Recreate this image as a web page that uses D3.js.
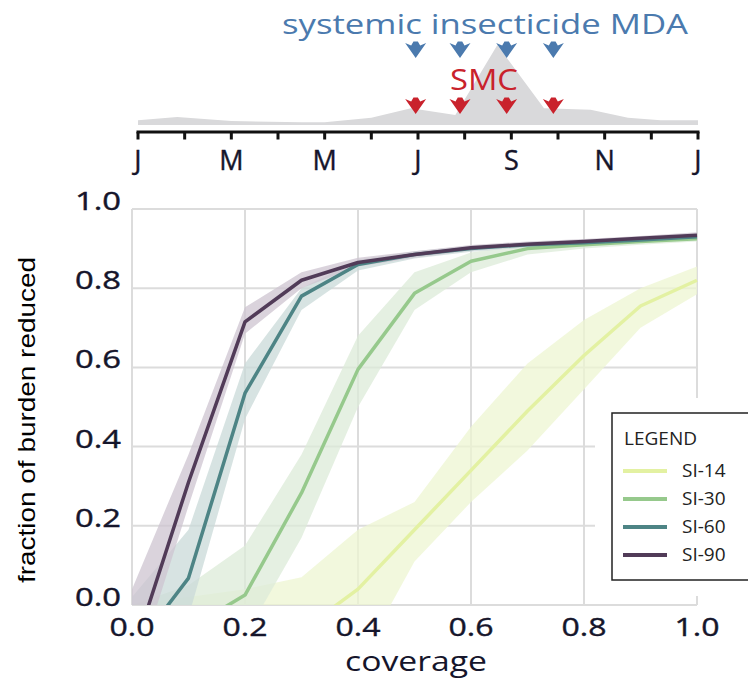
<html>
<head>
<meta charset="utf-8">
<style>
  body { margin: 0; background: #fff; }
  text { font-family: "Open Sans", "Noto Sans", sans-serif; }
</style>
</head>
<body>
<script src="https://cdn.jsdelivr.net/npm/d3@7"></script>
<script>
// ---- data ----
var coverage = [0, 0.1, 0.2, 0.3, 0.4, 0.5, 0.6, 0.7, 0.8, 0.9, 1.0];
var seriesNames = ["SI-14", "SI-30", "SI-60", "SI-90"];
var si14 = [-0.35, -0.25, -0.15, -0.065, 0.04, 0.19, 0.34, 0.49, 0.63, 0.755, 0.82];
var si14Lo = [-0.5, -0.4, -0.3, -0.25, -0.15, 0.11, 0.26, 0.39, 0.545, 0.70, 0.785];
var si14Hi = [0.0, 0.02, 0.04, 0.07, 0.19, 0.26, 0.45, 0.61, 0.72, 0.80, 0.855];
var si30 = [-0.1, -0.06, 0.025, 0.283, 0.595, 0.787, 0.868, 0.9, 0.91, 0.918, 0.925];
var si30Lo = [-0.2, -0.15, -0.08, 0.17, 0.50, 0.745, 0.84, 0.885, 0.9, 0.91, 0.918];
var si30Hi = [0.0, 0.05, 0.15, 0.38, 0.68, 0.84, 0.89, 0.912, 0.918, 0.924, 0.932];
var si60 = [-0.12, 0.068, 0.535, 0.78, 0.86, 0.885, 0.9, 0.91, 0.915, 0.922, 0.93];
var si60Lo = [-0.2, -0.03, 0.47, 0.745, 0.845, 0.875, 0.892, 0.903, 0.91, 0.916, 0.924];
var si60Hi = [0.02, 0.19, 0.61, 0.80, 0.872, 0.893, 0.907, 0.916, 0.921, 0.927, 0.935];
var si90 = [-0.13, 0.31, 0.715, 0.82, 0.865, 0.885, 0.902, 0.911, 0.918, 0.926, 0.934];
var si90Lo = [-0.2, 0.25, 0.685, 0.80, 0.855, 0.877, 0.895, 0.905, 0.912, 0.92, 0.928];
var si90Hi = [0.04, 0.38, 0.752, 0.84, 0.877, 0.893, 0.909, 0.918, 0.924, 0.932, 0.941];
var seriesColors = ["#e3f1a2", "#96c98c", "#4d8485", "#513b58"];
var bandColors = ["#eef6d2", "#dcebd8", "#c9d9d8", "#cdc4d0"];

var xTicks = [0, 0.2, 0.4, 0.6, 0.8, 1.0];
var yTicks = [0, 0.2, 0.4, 0.6, 0.8, 1.0];

// seasonal profile (month, relative height)
var seasonMonth = [0, 0.84, 2, 3.5, 4, 5, 5.85, 6.8, 7.7, 8.7, 9.7, 10.5, 11.2, 12];
var seasonValue = [0.06, 0.1, 0.05, 0.035, 0.035, 0.09, 0.21, 0.125, 1.0, 0.21, 0.19, 0.09, 0.06, 0.06];
var monthTicks = d3.range(0, 13);
var monthLabels = ["J", "M", "M", "J", "S", "N", "J"];
var monthLabelPos = [0, 2, 4, 6, 8, 10, 12];
var mdaRounds = [5.95, 6.9, 7.9, 8.9];
var smcRounds = [5.95, 6.9, 7.9, 8.9];

// ---- svg ----
var width = 748, height = 680;
var svg = d3.select("body").append("svg")
    .attr("width", width)
    .attr("height", height);

// ---- top seasonal panel ----
var mx = d3.scaleLinear().domain([0, 12]).range([138, 698]);
var sy = d3.scaleLinear().domain([0, 1]).range([125, 45]);

svg.append("path")
    .datum(seasonMonth.map(function (m, i) { return [m, seasonValue[i]]; }))
    .attr("fill", "#d9d9db")
    .attr("d", d3.area()
        .x(d => mx(d[0]))
        .y0(sy(0))
        .y1(d => sy(d[1])));

var axisG = svg.append("g").attr("transform", "translate(0,132)");
axisG.append("line")
    .attr("x1", mx(0) - 1.5).attr("x2", mx(12) + 1.5)
    .attr("stroke", "#111").attr("stroke-width", 3);
axisG.selectAll(".mt").data(monthTicks).enter().append("line")
    .attr("x1", d => mx(d)).attr("x2", d => mx(d))
    .attr("y1", 0).attr("y2", 7.5)
    .attr("stroke", "#111").attr("stroke-width", 3);
svg.selectAll(".ml").data(monthLabelPos).enter().append("text")
    .attr("x", d => mx(d))
    .attr("y", 170)
    .attr("text-anchor", "middle")
    .attr("font-size", 27)
    .attr("stroke", "#15152b").attr("stroke-width", 0.4)
    .attr("fill", "#15152b")
    .text((d, i) => monthLabels[i]);

var arrowPath = "M0,0 L-10.5,-15 L-4.5,-12.5 L-2.2,-16.5 L2.2,-16.5 L4.5,-12.5 L10.5,-15 Z";
svg.selectAll(".mda").data(mdaRounds).enter().append("path")
    .attr("d", arrowPath)
    .attr("fill", "#4b7aae")
    .attr("transform", d => "translate(" + mx(d) + ",58)");
svg.selectAll(".smc").data(smcRounds).enter().append("path")
    .attr("d", arrowPath)
    .attr("fill", "#c9222c")
    .attr("transform", d => "translate(" + mx(d) + ",114)");

svg.append("text")
    .attr("x", 282).attr("y", 34)
    .attr("font-size", 28)
    .attr("textLength", 406)
    .attr("lengthAdjust", "spacingAndGlyphs")
    .attr("fill", "#4b7aae")
    .text("systemic insecticide MDA");
svg.append("text")
    .attr("x", 450).attr("y", 90)
    .attr("font-size", 30)
    .attr("textLength", 68)
    .attr("lengthAdjust", "spacingAndGlyphs")
    .attr("fill", "#c9222c")
    .text("SMC");

// ---- main chart ----
var x = d3.scaleLinear().domain([0, 1]).range([132, 697]);
var y = d3.scaleLinear().domain([0, 1]).range([605, 209]);

var grid = svg.append("g");
grid.selectAll(".gx").data(xTicks).enter().append("line")
    .attr("x1", d => x(d)).attr("x2", d => x(d))
    .attr("y1", y(0)).attr("y2", y(1))
    .attr("stroke", "#dcdcdc").attr("stroke-width", 2);
grid.selectAll(".gy").data(yTicks).enter().append("line")
    .attr("x1", x(0)).attr("x2", x(1))
    .attr("y1", d => y(d)).attr("y2", d => y(d))
    .attr("stroke", "#dcdcdc").attr("stroke-width", 2);

svg.append("clipPath").attr("id", "plotclip")
    .append("rect")
    .attr("x", x(0)).attr("y", y(1) - 10)
    .attr("width", x(1) - x(0) + 4).attr("height", y(0) - y(1) + 10);

var plot = svg.append("g").attr("clip-path", "url(#plotclip)");
var mids = [si14, si30, si60, si90];
var los = [si14Lo, si30Lo, si60Lo, si90Lo];
var his = [si14Hi, si30Hi, si60Hi, si90Hi];

var bandArea = d3.area()
    .x(d => x(d.c))
    .y0(d => y(d.lo))
    .y1(d => y(d.hi));
var midLine = d3.line()
    .x(d => x(d.c))
    .y(d => y(d.v));

seriesNames.forEach(function (name, k) {
    var pts = coverage.map(function (c, i) {
        return { c: c, v: mids[k][i], lo: los[k][i], hi: his[k][i] };
    });
    plot.append("path").datum(pts)
        .attr("fill", bandColors[k])
        .attr("fill-opacity", 0.75)
        .attr("d", bandArea);
});
seriesNames.forEach(function (name, k) {
    var pts = coverage.map(function (c, i) {
        return { c: c, v: mids[k][i] };
    });
    plot.append("path").datum(pts)
        .attr("fill", "none")
        .attr("stroke", seriesColors[k])
        .attr("stroke-width", 3.5)
        .attr("stroke-linejoin", "round")
        .attr("d", midLine);
});

// tick labels
svg.selectAll(".yl").data(yTicks).enter().append("text")
    .attr("x", 75)
    .attr("y", d => y(d) + 1)
    .attr("font-size", 25)
    .attr("textLength", 46)
    .attr("lengthAdjust", "spacingAndGlyphs")
    .attr("stroke", "#15152b").attr("stroke-width", 0.4)
    .attr("fill", "#15152b")
    .text(d => d.toFixed(1));
svg.selectAll(".xl").data(xTicks).enter().append("text")
    .attr("x", d => x(d) - 22.5)
    .attr("y", 636)
    .attr("font-size", 26)
    .attr("textLength", 45)
    .attr("lengthAdjust", "spacingAndGlyphs")
    .attr("stroke", "#15152b").attr("stroke-width", 0.4)
    .attr("fill", "#15152b")
    .text(d => d.toFixed(1));

svg.append("text")
    .attr("x", 345).attr("y", 671)
    .attr("font-size", 27)
    .attr("textLength", 142)
    .attr("lengthAdjust", "spacingAndGlyphs")
    .attr("fill", "#15152b")
    .text("coverage");

svg.append("text")
    .attr("transform", "translate(35,583) rotate(-90)")
    .attr("font-size", 24)
    .attr("textLength", 326)
    .attr("lengthAdjust", "spacingAndGlyphs")
    .style("font-family", "'Liberation Sans', Arial, sans-serif")
    .attr("fill", "#000")
    .text("fraction of burden reduced");

// ---- legend ----
svg.append("rect")
    .attr("x", 595).attr("y", 398)
    .attr("width", 160).attr("height", 198)
    .attr("fill", "#fff");
var leg = svg.append("g").attr("transform", "translate(612,413)");
leg.append("rect")
    .attr("width", 145).attr("height", 167)
    .attr("fill", "#fff")
    .attr("stroke", "#222").attr("stroke-width", 1.5);
leg.append("text")
    .attr("x", 12).attr("y", 32)
    .attr("font-size", 19)
    .attr("textLength", 73)
    .attr("lengthAdjust", "spacingAndGlyphs")
    .attr("fill", "#222")
    .text("LEGEND");
var items = leg.selectAll(".li").data(seriesNames).enter().append("g")
    .attr("transform", (d, i) => "translate(0," + (58 + i * 28) + ")");
items.append("line")
    .attr("x1", 11).attr("x2", 55)
    .attr("stroke", (d, i) => seriesColors[i])
    .attr("stroke-width", 4);
items.append("text")
    .attr("x", 70).attr("y", 6)
    .attr("font-size", 19)
    .attr("fill", "#222")
    .text(d => d);
</script>
</body>
</html>
